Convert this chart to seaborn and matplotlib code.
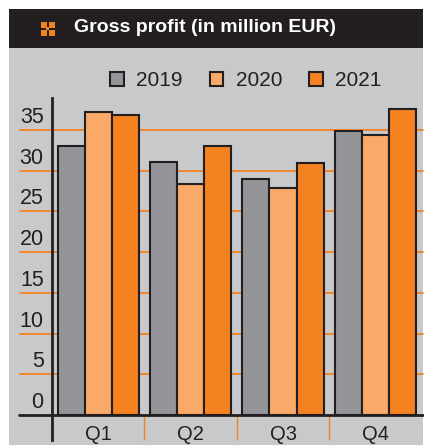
import matplotlib
matplotlib.use("Agg")
import matplotlib.pyplot as plt
import matplotlib.transforms as mtransforms
from matplotlib.patches import Rectangle
import pandas as pd
import seaborn as sns

quarters = ["Q1", "Q2", "Q3", "Q4"]
years = ["2019", "2020", "2021"]
profit_2019 = [33.0, 31.1, 28.9, 34.8]
profit_2020 = [37.2, 28.3, 27.8, 34.3]
profit_2021 = [36.8, 33.0, 30.9, 37.5]
y_ticks = [0, 5, 10, 15, 20, 25, 30, 35]
title = "Gross profit (in million EUR)"

BG = "#C8C9CB"
DARK = "#231F20"
ORANGE = "#F58220"
palette = {"2019": "#939598", "2020": "#F9A968", "2021": ORANGE}


def build_frame():
    rows = []
    for year, values in zip(years, [profit_2019, profit_2020, profit_2021]):
        for q, v in zip(quarters, values):
            rows.append({"quarter": q, "year": year, "profit": v})
    return pd.DataFrame(rows)


def main():
    sns.set_theme(style="white")
    plt.rcParams["font.family"] = ["Liberation Sans", "DejaVu Sans"]

    W, H = 424, 445
    fig = plt.figure(figsize=(W / 100, H / 100), dpi=100)
    fig.patch.set_facecolor("white")

    # panel background and title bar
    fig.add_artist(Rectangle((9 / W, 0), 414 / W, (H - 47.5) / H, transform=fig.transFigure,
                             facecolor=BG, edgecolor="none", zorder=-10))
    fig.add_artist(Rectangle((9 / W, (H - 47.5) / H), 414 / W, 38.5 / H, transform=fig.transFigure,
                             facecolor=DARK, edgecolor="none", zorder=-10))
    # little icon: four orange squares with a small one in the middle (pixel units)
    px = mtransforms.Affine2D().scale(1 / W, 1 / H) + fig.transFigure
    cx, cy = 47.5, H - 28.5
    for dx, dy in [(-7, -7), (-7, 1), (1, -7), (1, 1)]:
        fig.add_artist(Rectangle((cx + dx, cy + dy), 6, 6, transform=px,
                                 facecolor=ORANGE, edgecolor="none"))
    fig.add_artist(Rectangle((cx - 1.5, cy - 1.5), 3, 3, transform=px,
                             facecolor=ORANGE, edgecolor="none"))
    fig.text(74 / W, (H - 28) / H, title, color="white", fontsize=14, fontweight="bold",
             va="center", ha="left")

    ax = fig.add_axes([52 / W, (H - 415) / H, (423 - 52) / W, (415 - 98) / H])
    ax.patch.set_alpha(0)

    df = build_frame()
    sns.barplot(data=df, x="quarter", y="profit", hue="year", order=quarters, hue_order=years,
                palette=palette, width=0.88, edgecolor=DARK, linewidth=1.5,
                saturation=1, ax=ax, zorder=3)

    ax.set_xlim(-0.5, 3.515)
    ax.set_ylim(0, 38.9)

    for v in y_ticks[1:]:
        ax.axhline(v, xmin=-0.087, xmax=1, color=ORANGE, lw=1.3, zorder=1, clip_on=False)
    ax.axhline(0, xmin=-0.09, xmax=1, color=DARK, lw=2, zorder=5, clip_on=False)

    for sp in ["top", "right", "bottom"]:
        ax.spines[sp].set_visible(False)
    ax.spines["left"].set_color(DARK)
    ax.spines["left"].set_linewidth(2)
    ax.spines["left"].set_bounds(-3.1, 38.9)
    ax.spines["left"].set_zorder(6)

    ax.set_xticks(range(len(quarters)))
    ax.set_xticklabels(quarters, fontsize=14.5, color=DARK)
    ax.set_xticks([0.5, 1.5, 2.5], minor=True)
    ax.tick_params(axis="x", which="major", bottom=False, length=0, pad=7)
    ax.tick_params(axis="x", which="minor", bottom=True, length=18, width=1, color=ORANGE,
                   direction="out")
    ax.set_xlabel("")
    ax.set_ylabel("")

    ax.set_yticks(y_ticks)
    ax.tick_params(axis="y", left=False, length=0, pad=6)
    ax.set_yticklabels([str(t) for t in y_ticks], fontsize=15.5, color=DARK)
    # tick labels sit above their gridline
    offset = mtransforms.ScaledTranslation(0, 15 / 100, fig.dpi_scale_trans)
    for tick in ax.yaxis.get_major_ticks():
        tick.label1.set_transform(tick.label1.get_transform() + offset)

    handles, labels = ax.get_legend_handles_labels()
    ax.legend(handles, labels, ncol=3, frameon=False, fontsize=15,
              loc="center", bbox_to_anchor=(246 / W, (H - 81) / H), bbox_transform=fig.transFigure,
              handlelength=0.65, handleheight=0.65, handletextpad=0.6, columnspacing=1.3,
              labelcolor=DARK)

    fig.savefig("out.png", dpi=100)
    plt.close(fig)


if __name__ == "__main__":
    main()
